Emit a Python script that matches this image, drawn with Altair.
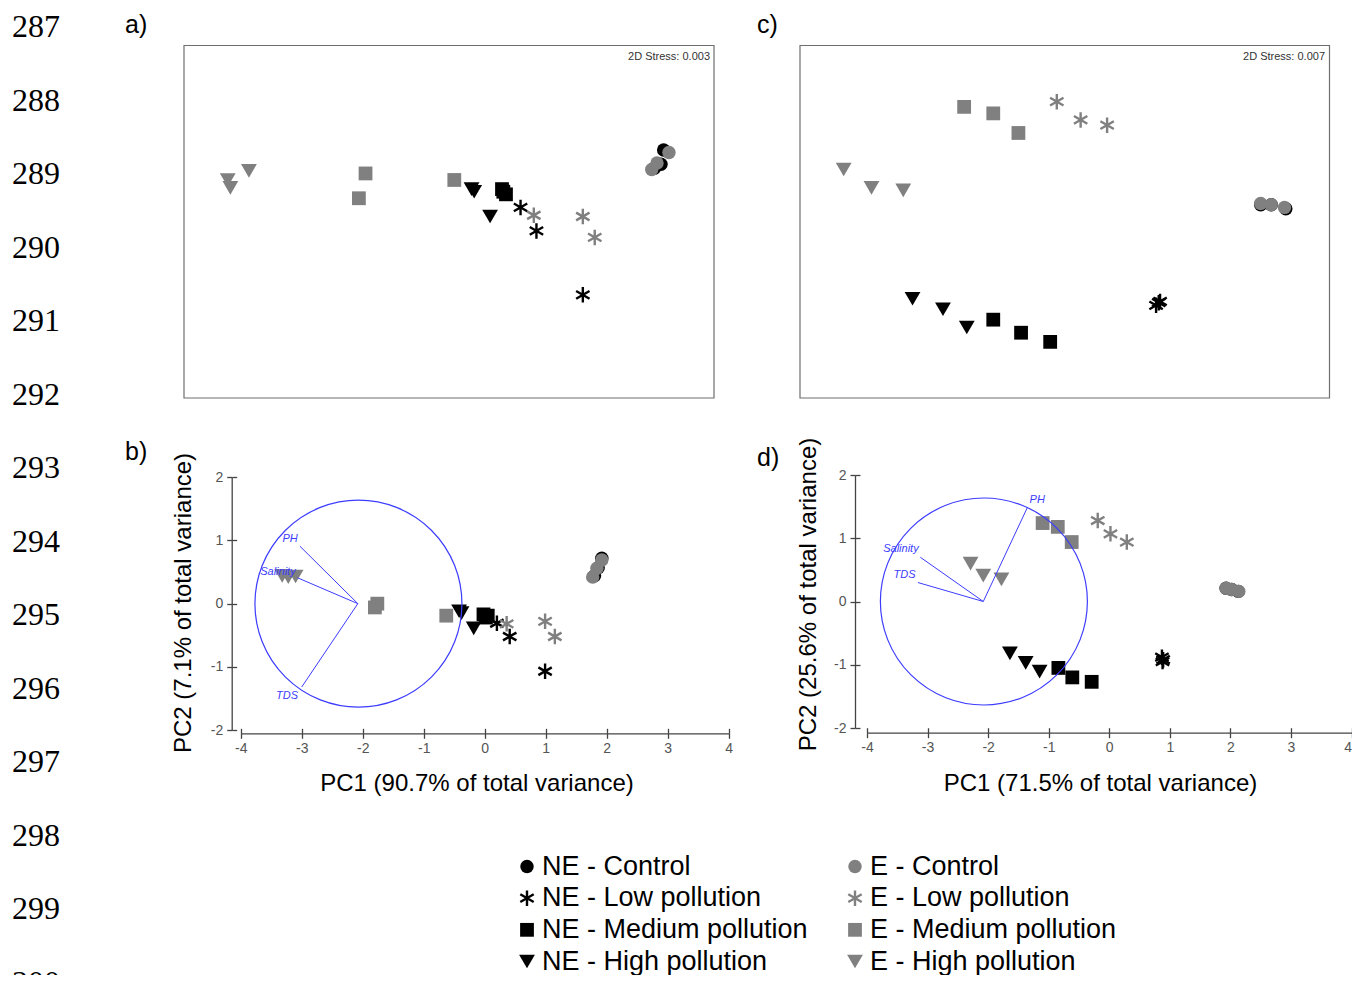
import altair as alt
import pandas as pd

# ---------------- data ----------------
LINE_NUMBERS = ["287", "288", "289", "290", "291", "292", "293", "294", "295", "296", "297", "298", "299", "300"]
LINE_INDEX = [287, 288, 289, 290, 291, 292, 293, 294, 295, 296, 297, 298, 299, 300]
PANEL_LETTERS = ["a)", "b)", "c)", "d)"]

GROUPS = ["NE - Control", "NE - Low pollution", "NE - Medium pollution", "NE - High pollution",
          "E - Control", "E - Low pollution", "E - Medium pollution", "E - High pollution"]
GROUP_COLORS = ["#000000", "#000000", "#000000", "#000000", "#808080", "#808080", "#808080", "#808080"]
LEVELS = ["Control", "Low pollution", "Medium pollution", "High pollution"]
FILLED_LEVELS = ["Control", "Medium pollution", "High pollution"]
FILLED_SHAPES = ["circle", "square", "triangle-down"]
FILLED_SIZES = [180, 190, 250]
ASTERISK = "M0,-1L0,1M-0.866,-0.5L0.866,0.5M-0.866,0.5L0.866,-0.5"

# a) NMDS, three replicates per group in GROUPS order
A_X = [1.62, 1.60, 1.55, 0.54, 0.66, 1.01, 0.40, 0.43, 0.41, 0.17, 0.19, 0.31,
       1.66, 1.57, 1.53, 0.64, 1.01, 1.10, -0.63, -0.68, 0.04, -1.67, -1.65, -1.51]
A_Y = [0.55, 0.44, 0.41, 0.11, -0.07, -0.56, 0.25, 0.21, 0.23, 0.25, 0.23, 0.04,
       0.53, 0.45, 0.40, 0.05, 0.04, -0.12, 0.37, 0.18, 0.32, 0.32, 0.26, 0.39]
# c) NMDS
C_X = [1.48, 1.56, 1.67, 0.71, 0.72, 0.69, -0.54, -0.33, -0.11, -1.15, -0.92, -0.74,
       1.48, 1.56, 1.66, -0.06, 0.12, 0.32, -0.76, -0.54, -0.35, -1.67, -1.46, -1.22]
C_Y = [0.13, 0.13, 0.10, -0.62, -0.61, -0.64, -0.75, -0.85, -0.92, -0.59, -0.67, -0.81,
       0.14, 0.13, 0.11, 0.92, 0.78, 0.74, 0.88, 0.83, 0.68, 0.40, 0.26, 0.24]
# b) PCA
B_X = [1.80, 1.86, 1.92, 0.20, 0.41, 0.99, -0.02, 0.02, 0.05, -0.42, -0.38, -0.18,
       1.77, 1.84, 1.92, 0.36, 0.99, 1.15, -1.80, -1.76, -0.63, -3.32, -3.22, -3.10]
B_Y = [0.44, 0.57, 0.72, -0.31, -0.52, -1.07, -0.17, -0.22, -0.19, -0.12, -0.15, -0.39,
       0.42, 0.56, 0.69, -0.32, -0.28, -0.52, -0.06, 0.00, -0.19, 0.44, 0.42, 0.43]
# d) PCA
D_X = [1.93, 2.02, 2.13, 0.87, 0.89, 0.88, -0.84, -0.61, -0.29, -1.64, -1.38, -1.15,
       1.93, 2.02, 2.14, -0.19, 0.02, 0.29, -1.10, -0.85, -0.62, -2.29, -2.08, -1.78]
D_Y = [0.21, 0.19, 0.16, -0.88, -0.92, -0.95, -1.05, -1.20, -1.27, -0.82, -0.97, -1.11,
       0.21, 0.19, 0.16, 1.28, 1.07, 0.94, 1.24, 1.18, 0.94, 0.60, 0.41, 0.35]

LOAD_VARS = ["PH", "Salinity", "TDS"]
LOAD_ORIGIN = [-2.08, 0.0]
CIRCLE_CENTER = [-2.07, 0.0]
B_LOAD_X = [-3.03, -3.07, -3.00]
B_LOAD_Y = [0.91, 0.41, -1.32]
B_LABEL_X = [-3.19, -3.39, -3.24]
B_LABEL_Y = [1.03, 0.50, -1.46]
D_LOAD_X = [-1.35, -3.12, -3.16]
D_LOAD_Y = [1.49, 0.70, 0.30]
D_LABEL_X = [-1.19, -3.44, -3.38]
D_LABEL_Y = [1.61, 0.83, 0.42]

NMDS_XDOM = [-2.0, 2.0]
NMDS_YDOM = [-1.35, 1.35]
PCA_XTICKS = [-4, -3, -2, -1, 0, 1, 2, 3, 4]
PCA_YTICKS = [-2, -1, 0, 1, 2]
STRESS = ["2D Stress: 0.003", "2D Stress: 0.007"]
X_TITLES = ["PC1 (90.7% of total variance)", "PC1 (71.5% of total variance)"]
Y_TITLES = ["PC2 (7.1% of total variance)", "PC2 (25.6% of total variance)"]

# ---------------- styling ----------------
W, H = 1344, 967
FONT = "Liberation Sans"
BLUE = "#3c3cff"
AX = "#444444"


def points(xs, ys):
    rows = []
    for i, (x, y) in enumerate(zip(xs, ys)):
        g = GROUPS[i // 3]
        rows.append({"x": x, "y": y, "group": g, "level": g.split(" - ")[1]})
    return pd.DataFrame(rows)


def lin(dom, rng):
    return alt.Scale(domain=dom, range=rng, nice=False, zero=False)


COLOR = alt.Color("group:N", scale=alt.Scale(domain=GROUPS, range=GROUP_COLORS), legend=None)
SHAPE = alt.Shape("level:N", scale=alt.Scale(domain=FILLED_LEVELS, range=FILLED_SHAPES), legend=None)
SIZE = alt.Size("level:N", scale=alt.Scale(type="ordinal", domain=FILLED_LEVELS, range=FILLED_SIZES), legend=None)


def note(text, x, y, **kw):
    return alt.Chart(pd.DataFrame({"t": [text]})).mark_text(**kw).encode(
        x=alt.value(x), y=alt.value(y), text="t:N")


def main_axis(orient, offset, values, title, tx, ty, last_right=False):
    kw = {}
    if last_right:
        kw["labelAlign"] = {"condition": {"test": "datum.value == 4", "value": "right"}, "value": "center"}
    return alt.Axis(orient=orient, offset=offset, values=values, title=title,
                    titleX=tx, titleY=ty, titleFont=FONT, titleFontSize=24,
                    titleFontWeight="normal", titleColor="#000000", titleAlign="center",
                    titleBaseline="middle", titleAngle=(270 if orient == "left" else 0),
                    domainColor=AX, domainWidth=1.3, tickColor=AX, tickWidth=1.3, tickSize=5,
                    labelFont=FONT, labelFontSize=14, labelColor="#555555",
                    labelPadding=(3 if orient == "bottom" else 4),
                    labelFlush=False, labelOverlap=False, grid=False,
                    labelExpr="'' + datum.value", **kw)


def inner_axis(orient, offset, values):
    return alt.Axis(orient=orient, offset=offset, values=values, title=None, domain=False,
                    labels=False, tickColor=AX, tickWidth=1.3, tickSize=5, grid=False)


def scatter_layers(df, sx, sy, ax_main=None, ay_main=None, ax_in=None, ay_in=None):
    filled = alt.Chart(df[df.level != "Low pollution"]).mark_point(
        filled=True, opacity=1, strokeWidth=0).encode(
        x=alt.X("x:Q", scale=sx, axis=ax_main),
        y=alt.Y("y:Q", scale=sy, axis=ay_main),
        color=COLOR, shape=SHAPE, size=SIZE)
    stars = alt.Chart(df[df.level == "Low pollution"]).mark_point(
        filled=False, opacity=1, shape=ASTERISK, strokeWidth=2.4, size=240).encode(
        x=alt.X("x:Q", scale=sx, axis=ax_in),
        y=alt.Y("y:Q", scale=sy, axis=ay_in),
        color=COLOR)
    return [filled, stars]


def nmds_panel(xs, ys, xr, yr, stress, stress_x):
    sx, sy = lin(NMDS_XDOM, xr), lin(NMDS_YDOM, yr)
    frame = alt.Chart(pd.DataFrame({"x": [NMDS_XDOM[0]], "x2": [NMDS_XDOM[1]],
                                    "y": [NMDS_YDOM[0]], "y2": [NMDS_YDOM[1]]})).mark_rect(
        fillOpacity=0, stroke="#6e6e6e", strokeWidth=1.2).encode(
        x=alt.X("x:Q", scale=sx, axis=None), x2="x2:Q",
        y=alt.Y("y:Q", scale=sy, axis=None), y2="y2:Q")
    layers = [frame] + scatter_layers(points(xs, ys), sx, sy)
    layers.append(note(stress, stress_x, 49, align="right", baseline="middle",
                       fontSize=11, color="#333333", font=FONT))
    return layers


def pca_panel(xs, ys, xr, yr, lx, ly, tx, ty, ax_y, ay_x, xt, yt, titles, last_right=False):
    sx, sy = lin([-4, 4], xr), lin([-2, 2], yr)
    ax_main = main_axis("bottom", ax_y - H, PCA_XTICKS, titles[0], xt[0], xt[1], last_right)
    ay_main = main_axis("left", -ay_x, PCA_YTICKS, titles[1], yt[0] - ay_x, yt[1])
    ax_in = inner_axis("top", -ax_y, PCA_XTICKS)
    ay_in = inner_axis("right", ay_x - W, PCA_YTICKS)
    layers = scatter_layers(points(xs, ys), sx, sy, ax_main, ay_main, ax_in, ay_in)
    circ = alt.Chart(pd.DataFrame({"x": [CIRCLE_CENTER[0]], "y": [CIRCLE_CENTER[1]]})).mark_point(
        shape="circle", filled=False, size=207 * 207, stroke=BLUE, strokeWidth=1.2, opacity=1).encode(
        x=alt.X("x:Q", scale=sx, axis=None), y=alt.Y("y:Q", scale=sy, axis=None))
    load = pd.DataFrame({"var": LOAD_VARS, "x0": [LOAD_ORIGIN[0]] * 3, "y0": [LOAD_ORIGIN[1]] * 3,
                         "x1": lx, "y1": ly, "tx": tx, "ty": ty})
    rules = alt.Chart(load).mark_rule(color=BLUE, strokeWidth=1).encode(
        x=alt.X("x0:Q", scale=sx, axis=None), y=alt.Y("y0:Q", scale=sy, axis=None),
        x2="x1:Q", y2="y1:Q")
    labels = alt.Chart(load).mark_text(color=BLUE, fontSize=11, fontStyle="italic", font=FONT,
                                       align="center", baseline="middle").encode(
        x=alt.X("tx:Q", scale=sx, axis=None), y=alt.Y("ty:Q", scale=sy, axis=None), text="var:N")
    return layers + [circ, rules, labels]


layers = []
# line numbers
ln = pd.DataFrame({"n": LINE_INDEX, "t": LINE_NUMBERS})
layers.append(alt.Chart(ln).mark_text(font="Liberation Serif", fontSize=32, align="left",
                                      baseline="middle", color="#000000").encode(
    x=alt.value(4), y=alt.Y("n:Q", scale=lin([287, 300], [19, 975]), axis=None), text="t:N"))

# panel letters
for letter, (px, py) in zip(PANEL_LETTERS, [(117, 17), (117, 444), (749, 17), (749, 450)]):
    layers.append(note(letter, px, py, align="left", baseline="middle", fontSize=25,
                       font=FONT, color="#000000"))

layers += nmds_panel(A_X, A_Y, [176, 706], [390, 37.5], STRESS[0], 702)
layers += nmds_panel(C_X, C_Y, [792, 1321.5], [390, 37.5], STRESS[1], 1317)

layers += pca_panel(B_X, B_Y, [232.7, 720.7], [722, 469.3], B_LOAD_X, B_LOAD_Y, B_LABEL_X, B_LABEL_Y,
                    725.3, 223.7, (468.5, 50), (175, 594.5), (X_TITLES[0], Y_TITLES[0]))
layers += pca_panel(D_X, D_Y, [859, 1343.5], [720, 467], D_LOAD_X, D_LOAD_Y, D_LABEL_X, D_LABEL_Y,
                    724.7, 847, (1092, 50.5), (800, 586), (X_TITLES[1], Y_TITLES[1]), last_right=True)

# legend
leg = pd.DataFrame({"group": GROUPS,
                    "level": [g.split(" - ")[1] for g in GROUPS],
                    "col": [0 if g.startswith("NE") else 1 for g in GROUPS],
                    "row": [LEVELS.index(g.split(" - ")[1]) for g in GROUPS]})
LSX = lin([0, 1], [519, 847])
LSY = lin([0, 3], [858.5, 953.5])
layers.append(alt.Chart(leg[leg.level != "Low pollution"]).mark_point(
    filled=True, opacity=1, strokeWidth=0).encode(
    x=alt.X("col:Q", scale=LSX, axis=None), y=alt.Y("row:Q", scale=LSY, axis=None),
    color=COLOR, shape=SHAPE, size=SIZE))
layers.append(alt.Chart(leg[leg.level == "Low pollution"]).mark_point(
    filled=False, opacity=1, shape=ASTERISK, strokeWidth=2.4, size=240).encode(
    x=alt.X("col:Q", scale=LSX, axis=None), y=alt.Y("row:Q", scale=LSY, axis=None), color=COLOR))
layers.append(alt.Chart(leg).mark_text(align="left", baseline="middle", dx=15, fontSize=27,
                                       font=FONT, color="#000000").encode(
    x=alt.X("col:Q", scale=LSX, axis=None), y=alt.Y("row:Q", scale=LSY, axis=None), text="group:N"))

chart = alt.layer(*layers).resolve_scale(x="independent", y="independent").properties(
    width=W, height=H, autosize=alt.AutoSizeParams(type="none"),
    padding={"left": 0, "top": 0, "right": 0, "bottom": 0},
).configure(font=FONT).configure_view(stroke=None)

chart.save("out.html", embed_options={"renderer": "svg", "actions": False})
